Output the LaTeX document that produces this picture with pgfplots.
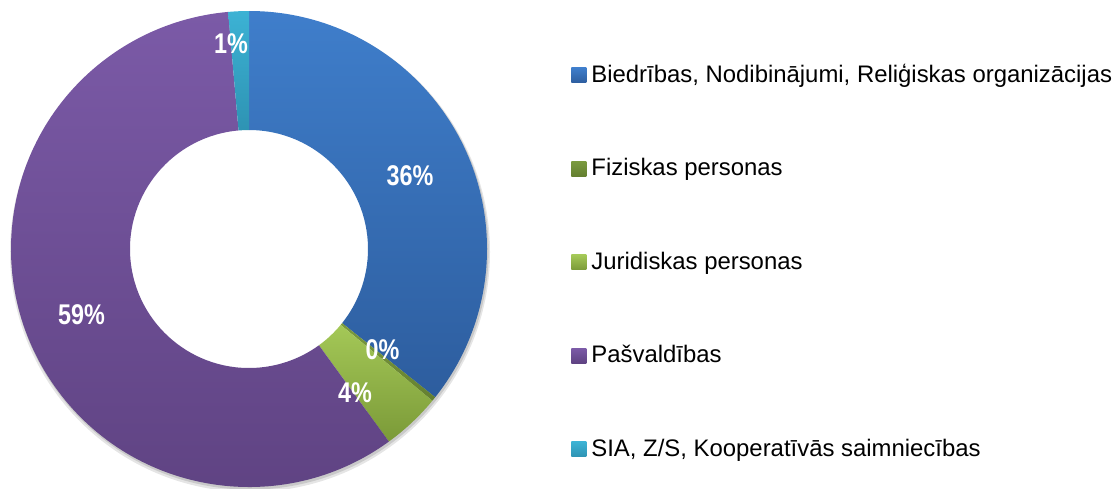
\documentclass[border=0pt]{standalone}
\usepackage{fontspec}
\setmainfont{Liberation Sans}
\newfontfamily\lblfont{Liberation Sans}[FakeStretch=0.82]
\usepackage{pgfplots}
\usepackage{pgfplotstable}
\pgfplotsset{compat=1.18}

\definecolor{seg0t}{HTML}{3F7ECB}\definecolor{seg0b}{HTML}{2D5D9E}
\definecolor{seg1t}{HTML}{7A9A3E}\definecolor{seg1b}{HTML}{647F30}
\definecolor{seg2t}{HTML}{A4C857}\definecolor{seg2b}{HTML}{7B9A38}
\definecolor{seg3t}{HTML}{7B5AA7}\definecolor{seg3b}{HTML}{5E4281}
\definecolor{seg4t}{HTML}{3CB2D4}\definecolor{seg4b}{HTML}{2E93B3}

\newcommand\lblstyle{\lblfont\bfseries\fontsize{14.25}{16}\selectfont}

% share (%), label centre in px (y from top)
\pgfplotstableread[col sep=comma]{
value,lx,ly
35.7,410,176
0.3,382.5,350
4.0,355,393
58.6,81.5,315
1.4,231,44
}\piedata

\newcommand\sq[1]{\addlegendimage{legend image code/.code={%
  \shade[draw=none, top color=#1t, bottom color=#1b] (0pt,-3.75pt) rectangle (7.5pt,3.75pt);}}}

\begin{document}
\begin{tikzpicture}
\begin{axis}[
  hide axis, xtick=\empty, ytick=\empty,
  scale only axis, width=559pt, height=244pt,
  xmin=0, xmax=1118, ymin=0, ymax=488, clip=false,
  legend style={draw=none, fill=none, inner sep=0pt,
    at={(axis cs:571,426)}, anchor=north west,
    row sep=33.75pt, column sep=2.5pt,
    font=\fontsize{11.95}{14}\selectfont,
    nodes={inner sep=0pt, text height=10pt, text depth=3pt}},
  legend cell align=left,
]
% soft shadow
\fill[black, opacity=0.10, even odd rule]
  (axis cs:250,236) circle[radius=120pt] (axis cs:250,236) circle[radius=100pt];
\fill[black, opacity=0.12, even odd rule]
  (axis cs:250,237) circle[radius=119.3pt] (axis cs:250,237) circle[radius=100pt];

\pgfmathsetmacro\acc{90}
\pgfplotsforeachungrouped \i in {0,...,4}{
  \pgfplotstablegetelem{\i}{value}\of\piedata \let\val\pgfplotsretval
  \pgfmathsetmacro\stop{\acc-3.6*\val}
  \pgfmathsetmacro\xa{249+238*cos(\acc)}
  \pgfmathsetmacro\ya{239+238*sin(\acc)}
  \pgfmathsetmacro\xb{249+119*cos(\stop)}
  \pgfmathsetmacro\yb{239+119*sin(\stop)}
  \edef\seg{\noexpand\shade[top color=seg\i t, bottom color=seg\i b]
    (axis cs:\xa,\ya) arc[start angle=\acc, end angle=\stop, radius=119pt]
    -- (axis cs:\xb,\yb) arc[start angle=\stop, end angle=\acc, radius=59.5pt] -- cycle;}
  \seg
  \let\acc\stop
}
\pgfplotsforeachungrouped \i in {0,...,4}{
  \pgfplotstablegetelem{\i}{value}\of\piedata \pgfmathtruncatemacro\pct{round(\pgfplotsretval)}
  \pgfplotstablegetelem{\i}{lx}\of\piedata \let\lx\pgfplotsretval
  \pgfplotstablegetelem{\i}{ly}\of\piedata \pgfmathsetmacro\lyy{488-\pgfplotsretval}
  \edef\lab{\noexpand\node[text=white, inner sep=0pt] at (axis cs:\lx,\lyy)
    {\noexpand\lblstyle\pct\noexpand\%};}
  \lab
}

\sq{seg0}\addlegendentry{Biedrības, Nodibinājumi, Reliģiskas organizācijas}
\sq{seg1}\addlegendentry{Fiziskas personas}
\sq{seg2}\addlegendentry{Juridiskas personas}
\sq{seg3}\addlegendentry{Pašvaldības}
\sq{seg4}\addlegendentry{SIA, Z/S, Kooperatīvās saimniecības}
\end{axis}
\pgfresetboundingbox
\path (current axis.south west) rectangle (current axis.north east);
\end{tikzpicture}
\end{document}
